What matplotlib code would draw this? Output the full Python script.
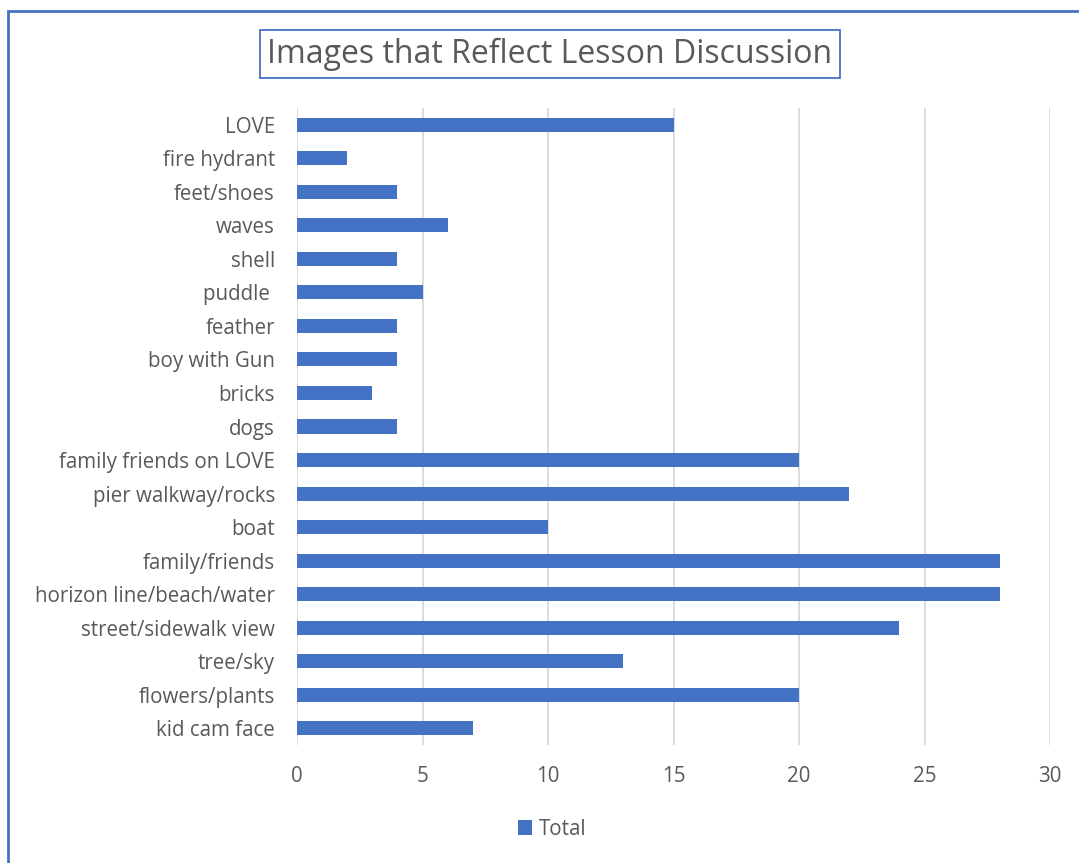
import matplotlib.pyplot as plt
from matplotlib.patches import Rectangle

# Bar chart data, top to bottom as shown in the picture
categories = ["LOVE", "fire hydrant", "feet/shoes", "waves", "shell", "puddle ",
              "feather", "boy with Gun", "bricks", "dogs", "family friends on LOVE",
              "pier walkway/rocks", "boat", "family/friends", "horizon line/beach/water",
              "street/sidewalk view", "tree/sky", "flowers/plants", "kid cam face"]
totals = [15, 2, 4, 6, 4, 5, 4, 4, 3, 4, 20, 22, 10, 28, 28, 24, 13, 20, 7]
x_ticks = [0, 5, 10, 15, 20, 25, 30]

blue = "#4472C4"
grey_text = "#595959"
plt.rcParams['font.family'] = ['Open Sans', 'DejaVu Sans']

fig = plt.figure(figsize=(10.79, 8.63), dpi=100)
ax = fig.add_axes([297 / 1079, 1 - 745 / 863, 753 / 1079, 637 / 863])

# bottom category first so LOVE ends up on top
cats = categories[::-1]
vals = totals[::-1]
ax.barh(range(len(cats)), vals, height=0.42, color=blue, label="Total", zorder=3)

ax.set_xlim(0, 30)
ax.set_ylim(-0.5, len(cats) - 0.5)
ax.set_xticks(x_ticks)
ax.set_yticks(range(len(cats)))
ax.set_yticklabels(cats)
ax.tick_params(axis='both', length=0, labelsize=14.8, colors=grey_text)
ax.tick_params(axis='y', pad=16)
ax.tick_params(axis='x', pad=15)
ax.grid(axis='x', color="#d9d9d9", linewidth=1.3, zorder=0)
for s in ax.spines.values():
    s.set_visible(False)

fig.text(550 / 1079, 1 - 54 / 863, "Images that Reflect Lesson Discussion",
         ha='center', va='center', fontsize=23, color=grey_text,
         bbox=dict(boxstyle='square,pad=0.22', facecolor='white', edgecolor=blue, linewidth=1.3))

fig.legend(loc='center', bbox_to_anchor=(552 / 1079, 1 - 829 / 863), frameon=False,
           fontsize=14.8, labelcolor=grey_text, handlelength=0.7, handleheight=0.7,
           handletextpad=0.3)

# chart frame (only left and top visible in the crop)
fig.patches.append(Rectangle((8 / 1079, -0.1), 1.2, 1 - 11 / 863 + 0.1,
                             transform=fig.transFigure, fill=False,
                             edgecolor=blue, linewidth=2))

fig.savefig("out.png", dpi=100)
